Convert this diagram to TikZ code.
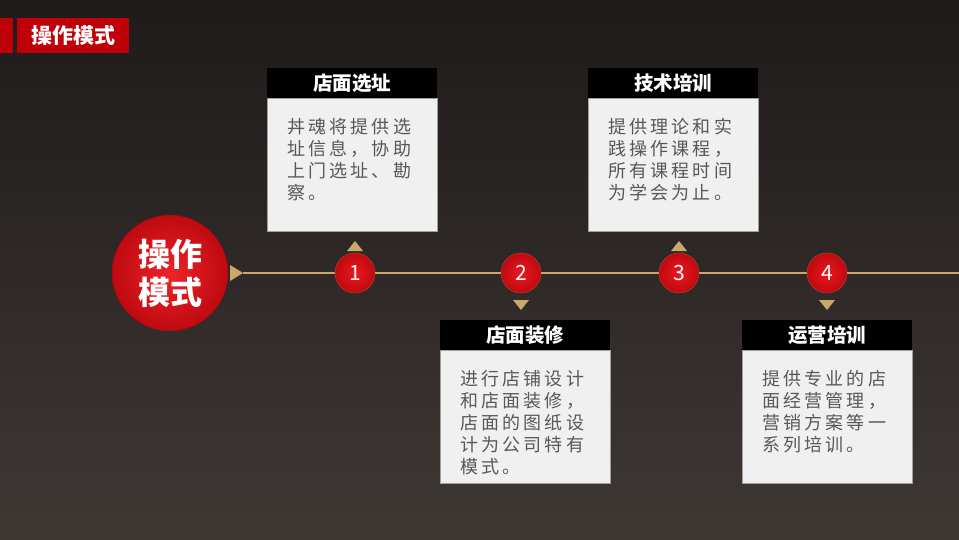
\documentclass[tikz,border=0pt]{standalone}
\usepackage{fontspec}
\setmainfont{Noto Sans CJK SC}
\newfontfamily\cjkbody[LetterSpace=18]{Noto Sans CJK SC}
\usepackage{tikz}
\usetikzlibrary{positioning,calc}
\newlength\pxu
\setlength\pxu{0.3mm}
\definecolor{bgtop}{RGB}{31,27,26}
\definecolor{bgbot}{RGB}{62,56,53}
\definecolor{gold}{RGB}{201,168,106}
\definecolor{brightred}{RGB}{236,24,30}
\definecolor{darkred}{RGB}{190,10,16}
\definecolor{bannerred}{RGB}{192,0,8}
\definecolor{boxfill}{RGB}{240,240,240}
\definecolor{boxline}{RGB}{160,160,160}
\definecolor{bodytext}{RGB}{88,88,88}
\tikzset{
    stephead/.style={
        fill=black,
        text=white,
        minimum width=170\pxu,
        minimum height=30\pxu,
        inner sep=0pt,
        font=\fontsize{19.5\pxu}{22\pxu}\selectfont\bfseries
    },
    stepbody/.style={
        draw=boxline,
        fill=boxfill,
        text=bodytext,
        minimum width=170\pxu,
        minimum height=133\pxu,
        inner xsep=20\pxu,
        inner ysep=20\pxu,
        font=\cjkbody\fontsize{18\pxu}{22\pxu}\selectfont
    },
    stepnum/.style={
        circle,
        draw=darkred!70!gold,
        inner color=brightred,
        outer color=darkred,
        minimum size=40\pxu,
        inner sep=0pt,
        text=white,
        font=\fontsize{21\pxu}{21\pxu}\selectfont
    },
    goldline/.style={
        draw=gold,
        line width=2\pxu
    }
}
\newcommand{\bodytext}[1]{\parbox[t][93\pxu][t]{130\pxu}{\raggedright #1}}

\begin{document}
\begin{tikzpicture}[x=1\pxu, y=-1\pxu]
% background
\shade[top color=bgtop, bottom color=bgbot] (0,0) rectangle (959,539);
\useasboundingbox (0,0) rectangle (959,539);

% title banner
\fill[bannerred] (0,18) rectangle (13,53);
\node[fill=bannerred, text=white, minimum width=112\pxu, minimum height=35\pxu, inner sep=0pt, anchor=west, font=\fontsize{21\pxu}{24\pxu}\selectfont\bfseries] (title) at (17,35.5) {操作模式};

% main circle
\node[circle, draw=darkred!80!black, inner color=brightred!95!white, outer color=darkred, minimum size=116\pxu, inner sep=0pt, text=white, align=center, font=\fontsize{32\pxu}{38\pxu}\selectfont\bfseries] (main) at (170,273) {操作\\模式};

% timeline
\coordinate (start) at (243,273);
\coordinate (end) at (959,273);
\fill[gold] (230,265) -- (start) -- (230,281) -- cycle;
\draw[goldline] (start) -- (end);

% steps
\node[stepnum] (n1) at (355,273) {1};
\node[stepnum] (n2) at (521,273) {2};
\node[stepnum] (n3) at (679,273) {3};
\node[stepnum] (n4) at (827,273) {4};

\fill[gold] (347,251) -- (355,241) -- (363,251) -- cycle;
\fill[gold] (513,300) -- (521,310) -- (529,300) -- cycle;
\fill[gold] (671,251) -- (679,241) -- (687,251) -- cycle;
\fill[gold] (819,300) -- (827,310) -- (835,300) -- cycle;

% 店面选址
\node[stephead] (h1) at (352,83) {店面选址};
\node[stepbody, below=0pt of h1] (b1) {\bodytext{丼魂将提供选\\址信息，协助\\上门选址、勘\\察。}};

% 店面装修
\node[stephead] (h2) at (525,335) {店面装修};
\node[stepbody, below=0pt of h2] (b2) {\bodytext{进行店铺设计\\和店面装修，\\店面的图纸设\\计为公司特有\\模式。}};

% 技术培训
\node[stephead] (h3) at (673,83) {技术培训};
\node[stepbody, below=0pt of h3] (b3) {\bodytext{提供理论和实\\践操作课程，\\所有课程时间\\为学会为止。}};

% 运营培训
\node[stephead] (h4) at (827,335) {运营培训};
\node[stepbody, below=0pt of h4] (b4) {\bodytext{提供专业的店\\面经营管理，\\营销方案等一\\系列培训。}};
\end{tikzpicture}
\end{document}
